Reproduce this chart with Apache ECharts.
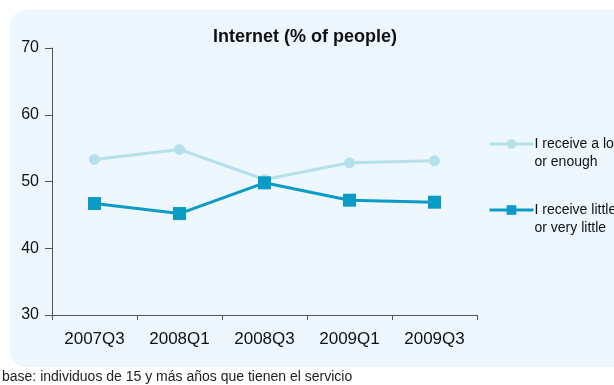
<!DOCTYPE html>
<html>
<head>
<meta charset="utf-8">
<script src="https://cdn.jsdelivr.net/npm/echarts@6/dist/echarts.min.js"></script>
<style>
  html, body { margin: 0; padding: 0; background: #ffffff; }
  #chart { width: 614px; height: 385px; }
</style>
</head>
<body>
<div id="chart"></div>
<script>
// Survey quarters on the category axis
const quarters = ['2007Q3', '2008Q1', '2008Q3', '2009Q1', '2009Q3'];
// Share of people (%) who say they receive a lot / enough
const receiveLot = [53.3, 54.8, 50.3, 52.8, 53.1];
// Share of people (%) who say they receive little / very little
const receiveLittle = [46.7, 45.2, 49.8, 47.2, 46.9];
// Value axis range and step
const yMin = 30, yMax = 70, yStep = 10;

const chart = echarts.init(document.getElementById('chart'), null, { renderer: 'canvas' });

const axisColor = '#555555';
const textColor = '#111111';
const font = '"Liberation Sans", Arial, sans-serif';

chart.setOption({
  backgroundColor: '#ffffff',
  animation: false,
  graphic: [
    {
      type: 'rect',
      z: -10,
      shape: { x: 10, y: 10, width: 640, height: 357, r: 16 },
      style: { fill: '#eef6fe' }
    },
    {
      type: 'text',
      left: 2,
      top: 370,
      style: {
        text: 'base: individuos de 15 y más años que tienen el servicio',
        font: '14px ' + font,
        fill: '#222222'
      }
    }
  ],
  title: {
    text: 'Internet (% of people)',
    left: 300,
    top: 23,
    textAlign: 'center',
    textStyle: { fontFamily: font, fontSize: 18, fontWeight: 'bold', color: textColor }
  },
  legend: {
    orient: 'vertical',
    left: 488,
    top: 117,
    padding: 0,
    itemWidth: 44,
    itemHeight: 12,
    itemGap: 12,
    lineStyle: { width: 3 },
    // blank first line keeps the label's first row level with the key line
    formatter: function (name) { return '\n' + name; },
    textStyle: { fontFamily: font, fontSize: 14, color: textColor, lineHeight: 18, padding: [0, 0, 0, -4] },
    data: [
      { name: 'I receive a lot\nor enough' },
      { name: 'I receive little\nor very little' }
    ]
  },
  grid: { left: 52, right: 137, top: 48, bottom: 70 },
  xAxis: {
    type: 'category',
    data: quarters,
    boundaryGap: true,
    axisLine: { lineStyle: { color: axisColor, width: 1 } },
    axisTick: { show: true, length: 5, lineStyle: { color: axisColor } },
    axisLabel: { fontFamily: font, fontSize: 17, color: textColor, margin: 16 }
  },
  yAxis: {
    type: 'value',
    min: yMin,
    max: yMax,
    interval: yStep,
    axisLine: { show: true, lineStyle: { color: axisColor, width: 1 } },
    axisTick: { show: true, length: 7, lineStyle: { color: axisColor } },
    splitLine: { show: false },
    axisLabel: { fontFamily: font, fontSize: 16, color: textColor, margin: 13 }
  },
  series: [
    {
      name: 'I receive a lot\nor enough',
      type: 'line',
      data: receiveLot,
      symbol: 'circle',
      symbolSize: 11,
      lineStyle: { color: '#b5e1ec', width: 3 },
      itemStyle: { color: '#b5e1ec' },
      z: 2
    },
    {
      name: 'I receive little\nor very little',
      type: 'line',
      data: receiveLittle,
      symbol: 'rect',
      symbolSize: 13,
      lineStyle: { color: '#0a9bc6', width: 3 },
      itemStyle: { color: '#0a9bc6' },
      z: 3
    }
  ]
});
</script>
</body>
</html>
